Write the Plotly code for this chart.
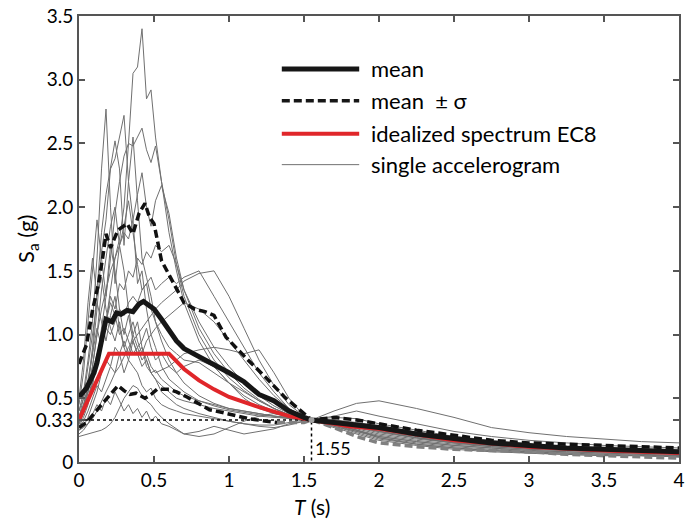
import plotly.graph_objects as go

# ---------------- data ----------------
T_grid = [0, 0.03, 0.06, 0.09, 0.12, 0.15, 0.18, 0.21, 0.24, 0.27, 0.30, 0.33, 0.36, 0.39,
          0.42, 0.45, 0.48, 0.51, 0.55, 0.6, 0.65, 0.7, 0.8, 0.9, 1.0, 1.1, 1.2, 1.3, 1.4,
          1.5, 1.55, 1.7, 1.85, 2.0, 2.25, 2.5, 2.75, 3.0, 3.25, 3.5, 3.75, 4.0]

acc01 = [0.30, 0.38, 0.50, 0.62, 0.80, 0.95, 1.10, 1.35, 1.60, 1.75, 2.00, 2.50, 3.05, 3.10, 3.40, 2.85, 2.92, 2.55, 2.20, 1.90,
         1.55, 1.30, 1.00, 0.80, 0.66, 0.56, 0.48, 0.42, 0.37, 0.34, 0.33,
         0.30, 0.27, 0.24, 0.20, 0.16, 0.14, 0.12, 0.11, 0.10, 0.09, 0.08]
acc02 = [0.40, 0.55, 0.80, 1.10, 1.60, 2.30, 2.77, 2.00, 1.40, 1.70, 1.50, 1.20, 1.00, 1.10, 0.90, 0.80, 0.70, 0.65, 0.60, 0.55,
         0.50, 0.48, 0.45, 0.42, 0.40, 0.38, 0.36, 0.35, 0.34, 0.33, 0.33,
         0.28, 0.24, 0.20, 0.16, 0.13, 0.11, 0.09, 0.08, 0.07, 0.06, 0.05]
acc03 = [0.35, 0.45, 0.60, 0.85, 1.20, 1.65, 1.90, 2.30, 2.38, 2.55, 2.72, 2.20, 1.90, 1.40, 1.50, 1.20, 1.00, 0.90, 0.75, 0.65,
         0.60, 0.55, 0.48, 0.45, 0.42, 0.40, 0.38, 0.36, 0.35, 0.34, 0.33,
         0.31, 0.26, 0.22, 0.18, 0.15, 0.13, 0.11, 0.10, 0.09, 0.08, 0.07]
acc04 = [0.28, 0.35, 0.45, 0.60, 0.80, 1.05, 1.30, 1.60, 1.95, 2.20, 2.40, 2.50, 2.48, 2.55, 2.62, 2.45, 2.35, 2.48, 2.20, 1.80,
         1.50, 1.25, 0.95, 0.75, 0.62, 0.52, 0.45, 0.40, 0.36, 0.34, 0.33,
         0.30, 0.27, 0.23, 0.19, 0.16, 0.13, 0.11, 0.10, 0.09, 0.08, 0.07]
acc05 = [0.32, 0.42, 0.60, 0.90, 1.35, 1.80, 2.10, 2.30, 2.52, 2.30, 1.70, 2.20, 2.55, 2.05, 1.60, 1.45, 1.30, 1.10, 0.95, 0.80,
         0.70, 0.62, 0.52, 0.46, 0.42, 0.40, 0.38, 0.36, 0.35, 0.34, 0.33,
         0.29, 0.25, 0.21, 0.17, 0.14, 0.12, 0.10, 0.09, 0.08, 0.07, 0.06]
acc06 = [0.30, 0.40, 0.55, 0.75, 1.00, 1.20, 1.35, 1.50, 1.60, 1.70, 1.80, 1.75, 1.90, 2.10, 2.27, 2.00, 1.85, 2.05, 2.17, 1.95,
         1.60, 1.35, 1.05, 0.85, 0.70, 0.58, 0.49, 0.42, 0.37, 0.34, 0.33,
         0.32, 0.29, 0.25, 0.21, 0.17, 0.14, 0.12, 0.11, 0.10, 0.09, 0.08]
acc07 = [0.25, 0.27, 0.30, 0.34, 0.40, 0.48, 0.55, 0.62, 0.70, 0.75, 0.82, 0.90, 0.95, 1.00, 1.05, 1.10, 1.15, 1.20, 1.25, 1.30,
         1.35, 1.42, 1.48, 1.50, 1.30, 1.05, 0.80, 0.60, 0.45, 0.36, 0.33,
         0.35, 0.34, 0.30, 0.25, 0.20, 0.17, 0.14, 0.12, 0.11, 0.10, 0.09]
acc08 = [0.35, 0.45, 0.55, 0.70, 0.85, 0.95, 1.05, 1.00, 1.10, 1.20, 1.15, 1.25, 1.30, 1.25, 1.35, 1.40, 1.45, 1.35, 1.40, 1.45,
         1.40, 1.45, 1.50, 1.30, 1.10, 0.90, 0.70, 0.55, 0.42, 0.35, 0.33,
         0.40, 0.46, 0.48, 0.42, 0.35, 0.27, 0.23, 0.20, 0.18, 0.16, 0.15]
acc09 = [0.40, 0.50, 0.65, 0.85, 1.05, 0.90, 1.10, 1.30, 1.20, 1.40, 1.35, 1.50, 1.45, 1.60, 1.55, 1.65, 1.60, 1.70, 1.65, 1.70,
         1.55, 1.35, 1.10, 0.90, 0.75, 0.62, 0.52, 0.44, 0.38, 0.34, 0.33,
         0.36, 0.40, 0.36, 0.30, 0.24, 0.20, 0.17, 0.15, 0.13, 0.12, 0.11]
acc10 = [0.45, 0.70, 1.10, 1.50, 1.90, 1.60, 1.30, 1.70, 1.50, 1.20, 1.00, 1.15, 0.95, 0.85, 0.90, 0.75, 0.70, 0.72, 0.65, 0.60,
         0.55, 0.52, 0.48, 0.44, 0.41, 0.39, 0.37, 0.36, 0.34, 0.33, 0.33,
         0.30, 0.25, 0.20, 0.16, 0.13, 0.11, 0.09, 0.08, 0.07, 0.06, 0.05]
acc11 = [0.20, 0.21, 0.22, 0.23, 0.24, 0.25, 0.27, 0.30, 0.35, 0.42, 0.50, 0.55, 0.60, 0.58, 0.52, 0.48, 0.45, 0.40, 0.35, 0.30,
         0.26, 0.22, 0.20, 0.22, 0.27, 0.32, 0.36, 0.38, 0.36, 0.34, 0.33,
         0.30, 0.25, 0.19, 0.14, 0.11, 0.09, 0.07, 0.06, 0.05, 0.05, 0.04]
acc12 = [0.25, 0.28, 0.35, 0.45, 0.55, 0.70, 0.80, 0.75, 0.90, 0.85, 0.70, 0.80, 0.95, 0.85, 0.75, 0.80, 0.70, 0.65, 0.55, 0.50,
         0.45, 0.42, 0.38, 0.35, 0.32, 0.30, 0.28, 0.27, 0.29, 0.32, 0.33,
         0.27, 0.22, 0.17, 0.13, 0.10, 0.08, 0.07, 0.06, 0.05, 0.05, 0.04]
acc13 = [0.30, 0.38, 0.50, 0.65, 0.80, 0.95, 1.10, 1.25, 1.15, 1.00, 1.05, 0.95, 0.85, 0.90, 0.80, 0.85, 0.75, 0.70, 0.72, 0.75,
         0.80, 0.85, 0.88, 0.90, 0.88, 0.85, 0.88, 0.70, 0.50, 0.36, 0.33,
         0.32, 0.28, 0.24, 0.19, 0.15, 0.13, 0.11, 0.10, 0.09, 0.08, 0.07]
acc14 = [0.35, 0.50, 0.75, 1.00, 1.25, 1.10, 0.95, 1.15, 1.30, 1.05, 0.90, 1.00, 1.10, 0.95, 0.85, 0.95, 1.00, 1.05, 1.10, 1.15,
         1.20, 1.25, 1.20, 1.10, 0.95, 0.80, 0.65, 0.52, 0.42, 0.35, 0.33,
         0.33, 0.31, 0.28, 0.23, 0.18, 0.15, 0.12, 0.11, 0.10, 0.09, 0.08]
acc15 = [0.22, 0.25, 0.30, 0.38, 0.45, 0.40, 0.50, 0.45, 0.55, 0.48, 0.40, 0.45, 0.38, 0.42, 0.35, 0.40, 0.32, 0.36, 0.30, 0.28,
         0.25, 0.22, 0.24, 0.28, 0.25, 0.22, 0.24, 0.26, 0.30, 0.32, 0.33,
         0.28, 0.23, 0.18, 0.14, 0.11, 0.09, 0.08, 0.07, 0.06, 0.05, 0.04]
acc16 = [0.28, 0.32, 0.40, 0.50, 0.60, 0.55, 0.65, 0.75, 0.70, 0.85, 0.95, 0.85, 1.00, 0.90, 0.95, 1.05, 0.90, 0.80, 0.85, 0.75,
         0.70, 0.75, 0.80, 0.75, 0.62, 0.50, 0.42, 0.38, 0.35, 0.33, 0.33,
         0.31, 0.28, 0.24, 0.19, 0.15, 0.12, 0.10, 0.09, 0.08, 0.07, 0.06]
acc17 = [0.50, 0.80, 1.25, 1.60, 1.30, 1.45, 1.20, 1.05, 0.95, 1.10, 0.90, 0.80, 0.75, 0.70, 0.60, 0.55, 0.58, 0.50, 0.45, 0.42,
         0.40, 0.38, 0.36, 0.34, 0.32, 0.30, 0.29, 0.29, 0.31, 0.33, 0.33,
         0.29, 0.24, 0.19, 0.15, 0.12, 0.10, 0.08, 0.07, 0.06, 0.05, 0.05]
acc18 = [0.30, 0.40, 0.55, 0.75, 1.00, 1.35, 1.60, 1.85, 2.00, 1.70, 1.85, 2.05, 1.80, 1.55, 1.35, 1.40, 1.20, 1.10, 1.00, 0.90,
         0.85, 0.80, 0.78, 0.70, 0.62, 0.55, 0.48, 0.42, 0.37, 0.34, 0.33,
         0.33, 0.30, 0.26, 0.21, 0.17, 0.14, 0.12, 0.11, 0.10, 0.09, 0.08]
accelerograms = [acc01, acc02, acc03, acc04, acc05, acc06, acc07, acc08, acc09,
                 acc10, acc11, acc12, acc13, acc14, acc15, acc16, acc17, acc18]

mean_T = [0, 0.05, 0.1, 0.12, 0.15, 0.18, 0.22, 0.25, 0.28, 0.32, 0.36, 0.4, 0.43, 0.47, 0.5, 0.55,
          0.6, 0.65, 0.7, 0.8, 0.9, 1.0, 1.1, 1.2, 1.3, 1.4, 1.5, 1.55, 1.7, 1.85, 2.0, 2.25,
          2.5, 2.75, 3.0, 3.25, 3.5, 3.75, 4.0]
mean_S = [0.51, 0.58, 0.70, 0.78, 0.95, 1.12, 1.10, 1.17, 1.16, 1.19, 1.18, 1.24, 1.26, 1.22, 1.20, 1.12,
          1.03, 0.95, 0.89, 0.83, 0.77, 0.70, 0.63, 0.53, 0.48, 0.40, 0.35, 0.33, 0.31, 0.29, 0.27, 0.22,
          0.18, 0.15, 0.13, 0.11, 0.10, 0.09, 0.08]

upper_T = [0, 0.05, 0.09, 0.13, 0.16, 0.18, 0.21, 0.26, 0.32, 0.36, 0.40, 0.44, 0.47, 0.50, 0.55,
           0.63, 0.70, 0.77, 0.84, 0.9, 0.98, 1.11, 1.24, 1.37, 1.5, 1.55, 1.7, 1.85, 2.0, 2.25,
           2.5, 2.75, 3.0, 3.25, 3.5, 3.75, 4.0]
upper_S = [0.77, 0.92, 1.19, 1.40, 1.62, 1.79, 1.68, 1.82, 1.87, 1.79, 1.95, 2.03, 1.92, 1.87, 1.58,
           1.40, 1.25, 1.20, 1.18, 1.15, 0.98, 0.82, 0.67, 0.51, 0.38, 0.33, 0.35, 0.33, 0.30, 0.25,
           0.21, 0.17, 0.15, 0.14, 0.13, 0.12, 0.11]

lower_T = [0, 0.05, 0.1, 0.15, 0.2, 0.26, 0.3, 0.34, 0.38, 0.44, 0.48, 0.52, 0.6, 0.65, 0.72,
           0.8, 0.87, 0.95, 1.02, 1.13, 1.25, 1.32]
lower_S = [0.27, 0.31, 0.38, 0.45, 0.52, 0.60, 0.56, 0.53, 0.54, 0.50, 0.53, 0.57, 0.57, 0.55, 0.51,
           0.46, 0.41, 0.39, 0.37, 0.34, 0.32, 0.31]
lower2_T = [1.32, 1.4, 1.5, 1.55, 1.7, 1.85, 2.0, 2.25, 2.5, 2.75, 3.0, 3.25, 3.5, 3.75, 4.0]
lower2_S = [0.31, 0.31, 0.31, 0.33, 0.27, 0.20, 0.15, 0.12, 0.10, 0.09, 0.08, 0.06, 0.05, 0.04, 0.03]

ec8_T = [0, 0.2, 0.6, 0.7, 0.8, 0.9, 1.0, 1.2, 1.4, 1.55, 1.8, 2.0, 2.5, 3.0, 3.5, 4.0]
ec8_S = [0.33, 0.85, 0.85, 0.73, 0.64, 0.57, 0.51, 0.43, 0.36, 0.33, 0.28, 0.26, 0.17, 0.12, 0.09, 0.07]

ref_T = [0, 1.55, 1.55]
ref_S = [0.33, 0.33, 0]
anchor_T = [1.55]
anchor_S = [0.33]

x_ticks = [0, 0.5, 1, 1.5, 2, 2.5, 3, 3.5, 4]
x_labels = ["0", "0.5", "1", "1.5", "2", "2.5", "3", "3.5", "4"]
y_ticks = [0, 0.33, 0.5, 1.0, 1.5, 2.0, 2.5, 3.0, 3.5]
y_labels = ["0", "0.33", "0.5", "1.0", "1.5", "2.0", "2.5", "3.0", "3.5"]

legend_labels = ["mean", "mean  \u00b1 \u03c3", "idealized spectrum EC8", "single accelerogram"]

FONT = "Lato"
GREY = "#707070"

# ---------------- figure ----------------
fig = go.Figure()
for acc in accelerograms:
    fig.add_trace(go.Scatter(x=T_grid, y=acc, mode="lines",
                             line=dict(color=GREY, width=1), hoverinfo="skip", showlegend=False))

fig.add_trace(go.Scatter(x=ref_T, y=ref_S, mode="lines",
                         line=dict(color="black", width=1.5, dash="dot"), showlegend=False))
fig.add_trace(go.Scatter(x=lower2_T, y=lower2_S, mode="lines",
                         line=dict(color="#808080", width=3.5, dash="8px,4px"), showlegend=False))
fig.add_trace(go.Scatter(x=lower_T, y=lower_S, mode="lines",
                         line=dict(color="#111111", width=3.5, dash="8px,4px"), showlegend=False))
fig.add_trace(go.Scatter(x=upper_T, y=upper_S, mode="lines",
                         line=dict(color="#111111", width=3.5, dash="8px,4px"), showlegend=False))
fig.add_trace(go.Scatter(x=ec8_T, y=ec8_S, mode="lines",
                         line=dict(color="#e0262a", width=4), showlegend=False))
fig.add_trace(go.Scatter(x=mean_T, y=mean_S, mode="lines",
                         line=dict(color="#161616", width=5), showlegend=False))
fig.add_trace(go.Scatter(x=anchor_T, y=anchor_S, mode="markers",
                         marker=dict(color="#a0a0a0", size=6), showlegend=False))

# manual legend (paper coordinates)
leg_y = [0.8814, 0.8098, 0.736, 0.6667]
leg_styles = [dict(color="#161616", width=5),
              dict(color="#161616", width=3.5, dash="8px,4px"),
              dict(color="#e0262a", width=4),
              dict(color=GREY, width=1)]
for yy, st, lab in zip(leg_y, leg_styles, legend_labels):
    fig.add_shape(type="line", xref="paper", yref="paper", x0=0.338, x1=0.467, y0=yy, y1=yy,
                  line=st)
    fig.add_annotation(xref="paper", yref="paper", x=0.4835, y=yy, text=lab, showarrow=False,
                       xanchor="left", yanchor="middle", font=dict(family=FONT, size=22, color="black"))

fig.add_annotation(x=1.55, y=0.0, xref="x", yref="y", text="1.55", showarrow=False,
                   xanchor="left", yanchor="bottom", xshift=1, yshift=1,
                   font=dict(family=FONT, size=18, color="black"))
fig.add_annotation(x=1.55, y=0, xref="x", yref="paper", text="<i>T</i> (s)", showarrow=False,
                   xanchor="center", yanchor="top", yshift=-30,
                   font=dict(family=FONT, size=21, color="black"))
fig.add_annotation(x=0, y=0.5, xref="paper", yref="paper", text="S<sub>a</sub> (g)", showarrow=False,
                   textangle=-90, xanchor="center", yanchor="middle", xshift=-52,
                   font=dict(family=FONT, size=22, color="black"))

axis_common = dict(showline=True, linecolor="#555555", linewidth=2, mirror="ticks",
                   ticks="inside", ticklen=6, tickwidth=1.5, tickcolor="#555555",
                   showgrid=False, zeroline=False,
                   tickfont=dict(family=FONT, size=19, color="black"))
fig.update_xaxes(range=[0, 4], tickvals=x_ticks, ticktext=x_labels, **axis_common)
fig.update_yaxes(range=[0, 3.5], tickvals=y_ticks, ticktext=y_labels, **axis_common)

fig.update_layout(width=689, height=522, margin=dict(l=79, r=4, t=15, b=60),
                  plot_bgcolor="white", paper_bgcolor="white", showlegend=False)

fig.write_html("out.html")
